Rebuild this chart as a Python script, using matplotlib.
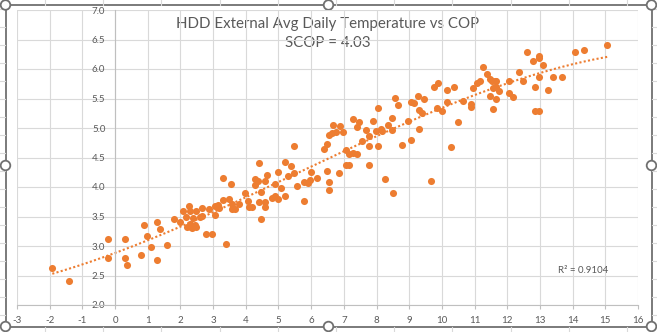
import numpy as np
import matplotlib
matplotlib.use("Agg")
import matplotlib.pyplot as plt
from matplotlib.patches import Circle, Rectangle

# daily average external temperature (C) and measured COP
temp = [-1.92, -1.42, -0.23, -0.23, 0.30, 0.30, 0.38, 0.79, 0.88, 0.97,
        1.09, 1.28, 1.28, 1.37, 1.58, 1.79, 1.98, 2.07, 2.18, 2.27,
        2.29, 2.20, 2.29, 2.34, 2.39, 2.47, 2.49, 2.39, 2.31, 2.44,
        2.59, 2.66, 2.67, 2.77, 2.87, 2.98, 3.05, 3.07, 3.15, 3.17,
        3.29, 3.39, 3.30, 3.48, 3.56, 3.58, 3.58, 3.68, 3.79, 3.97,
        4.08, 4.09, 4.19, 4.27, 4.27, 4.38, 4.40, 4.40, 4.48, 4.48,
        4.58, 4.58, 4.58, 4.66, 4.79, 4.88, 4.89, 4.98, 4.98, 5.07,
        5.19, 5.19, 5.29, 5.38, 5.48, 5.58, 5.78, 5.78, 5.90, 5.97,
        5.99, 6.17, 6.48, 6.55, 6.55, 6.86, 7.08, 7.16, 7.78, 8.27,
        8.49, 9.68, 5.47, 6.38, 6.48, 6.56,
        6.67, 6.65, 6.76, 6.88, 6.98, 7.08, 7.16, 7.27, 7.27, 7.39,
        7.39, 7.47, 7.57, 7.67, 7.78, 7.78, 7.88, 7.98, 8.05, 8.05,
        8.15, 8.18, 8.36, 8.47, 8.48, 8.58, 8.66, 8.77, 8.97, 9.07,
        9.14, 9.07, 9.28, 9.29, 9.31, 9.38, 9.46, 9.77, 9.87, 9.84,
        9.99, 10.17, 10.17, 10.27, 10.38, 10.48, 10.65, 10.88, 10.88, 10.96,
        11.08, 11.18, 11.27, 11.37, 11.47, 11.52, 11.62, 11.67, 11.47, 11.57,
        11.67, 11.76, 11.66, 11.57, 12.06, 12.06, 12.18, 12.37, 12.47, 12.59,
        12.78, 12.86, 12.86, 12.97, 12.98, 12.98, 13.08, 12.98, 13.26, 13.39,
        13.69, 14.07, 14.36, 15.06]
cop = [2.63, 2.41, 3.12, 2.79, 3.12, 2.80, 2.67, 2.85, 3.36, 3.17,
       2.98, 3.41, 2.77, 3.29, 3.02, 3.46, 3.41, 3.59, 3.49, 3.68,
       3.60, 3.33, 3.38, 3.30, 3.47, 3.59, 3.33, 3.34, 3.32, 3.35,
       3.50, 3.64, 3.51, 3.21, 3.63, 3.21, 3.68, 3.53, 3.69, 3.64,
       4.15, 3.04, 3.78, 3.80, 4.05, 3.71, 3.63, 3.62, 3.72, 3.89,
       3.77, 3.66, 3.66, 4.14, 4.04, 4.11, 4.40, 3.75, 3.91, 3.46,
       4.10, 3.75, 3.66, 4.21, 3.82, 4.05, 3.84, 3.80, 4.25, 3.99,
       4.43, 3.85, 4.19, 4.36, 4.23, 4.02, 3.76, 4.09, 4.07, 4.12,
       4.25, 4.15, 4.27, 4.08, 3.95, 4.24, 4.38, 4.38, 4.38, 4.14,
       3.90, 4.11, 4.70, 4.64, 4.73, 4.88,
       5.05, 4.92, 4.94, 5.03, 4.94, 4.62, 4.56, 5.16, 4.57, 4.56,
       5.02, 5.10, 4.78, 4.97, 4.86, 4.70, 5.12, 4.95, 5.34, 4.70,
       4.98, 4.95, 5.05, 4.97, 5.17, 5.51, 5.39, 4.72, 5.12, 5.44,
       5.43, 4.79, 5.54, 5.31, 4.99, 5.25, 5.49, 5.70, 5.77, 5.34,
       5.28, 5.64, 5.44, 4.68, 5.69, 5.11, 5.46, 5.41, 5.35, 5.68,
       5.77, 5.79, 6.04, 5.92, 5.83, 5.79, 5.79, 5.80, 5.55, 5.67,
       5.69, 5.63, 5.50, 5.33, 5.80, 5.59, 5.53, 5.95, 5.79, 6.28,
       6.14, 5.70, 5.28, 5.28, 6.22, 6.18, 6.06, 5.87, 5.64, 5.86,
       5.86, 6.28, 6.32, 6.41]

x_ticks = list(range(-3, 17))
y_ticks = [2.0, 2.5, 3.0, 3.5, 4.0, 4.5, 5.0, 5.5, 6.0, 6.5, 7.0]
title = "HDD External Avg Daily Temperature vs COP"
subtitle = "SCOP = 4.03"
r2_label = "R² = 0.9104"

orange = "#ED7D31"
grey_text = "#595959"
grid_col = "#d9d9d9"

plt.rcParams['font.family'] = ['Lato', 'DejaVu Sans']
plt.rcParams['axes.unicode_minus'] = False

W, H = 657, 332
fig = plt.figure(figsize=(W / 100, H / 100), dpi=100)

#----- sheet background, chart frame and handles (pixel coords) -----#
bg = fig.add_axes([0, 0, 1, 1])
bg.set_xlim(0, W)
bg.set_ylim(H, 0)
bg.axis('off')

for yy in np.arange(8.5, H, 18):
    bg.plot([0, 5], [yy, yy], color=grid_col, lw=0.8)
    bg.plot([652, W], [yy, yy], color=grid_col, lw=0.8)
for xx in np.arange(45, W, 58.2):
    bg.plot([xx, xx], [0, 5], color=grid_col, lw=0.8)
    bg.plot([xx, xx], [327, H], color=grid_col, lw=0.8)

bg.add_patch(Rectangle((5.5, 5), 646, 321.5, fill=False,
                       edgecolor="#707070", lw=1.3))

for hx in (5.5, 328.5, 651.5):
    for hy in (5, 165.5, 326.5):
        if hx == 328.5 and hy == 165.5:
            continue
        bg.add_patch(Circle((hx, hy), 4.8, facecolor="white",
                            edgecolor="#707070", lw=1.3, zorder=5))

bg.text(328, 24, title, ha='center', va='center', fontsize=10.8, color=grey_text)
bg.text(328, 43, subtitle, ha='center', va='center', fontsize=10.8, color=grey_text)

#------------- scatter chart -------------#
ax = fig.add_axes([17 / W, 1 - 305 / H, 621 / W, 295 / H])
ax.patch.set_visible(False)
ax.set_xlim(-3, 16)
ax.set_ylim(2, 7)
ax.set_xticks(x_ticks)
ax.set_yticks(y_ticks)
ax.set_xticklabels([str(t) for t in x_ticks])
ax.set_yticklabels(["%.1f" % t for t in y_ticks])
ax.grid(color=grid_col, lw=0.8)
ax.set_axisbelow(True)

ax.spines['top'].set_visible(False)
ax.spines['right'].set_visible(False)
ax.spines['left'].set_position(('data', 0))
ax.spines['left'].set_color("#bfbfbf")
ax.spines['bottom'].set_color("#bfbfbf")

ax.tick_params(axis='y', length=0, pad=7, labelsize=7, labelcolor=grey_text)
ax.tick_params(axis='x', length=3, direction='out', color="#bfbfbf",
               pad=5, labelsize=7, labelcolor=grey_text)

ax.scatter(temp, cop, s=26, color=orange, linewidths=0, zorder=3)

# polynomial trendline over the data range
coef = np.polyfit(temp, cop, 3)
xs = np.linspace(min(temp), max(temp), 300)
ax.plot(xs, np.polyval(coef, xs), color=orange, lw=1.5,
        ls=(0, (1, 1.1)), zorder=2)

ax.text(13.55, 2.59, r2_label, fontsize=7, color=grey_text, va='center')

fig.savefig("out.png", dpi=100)
